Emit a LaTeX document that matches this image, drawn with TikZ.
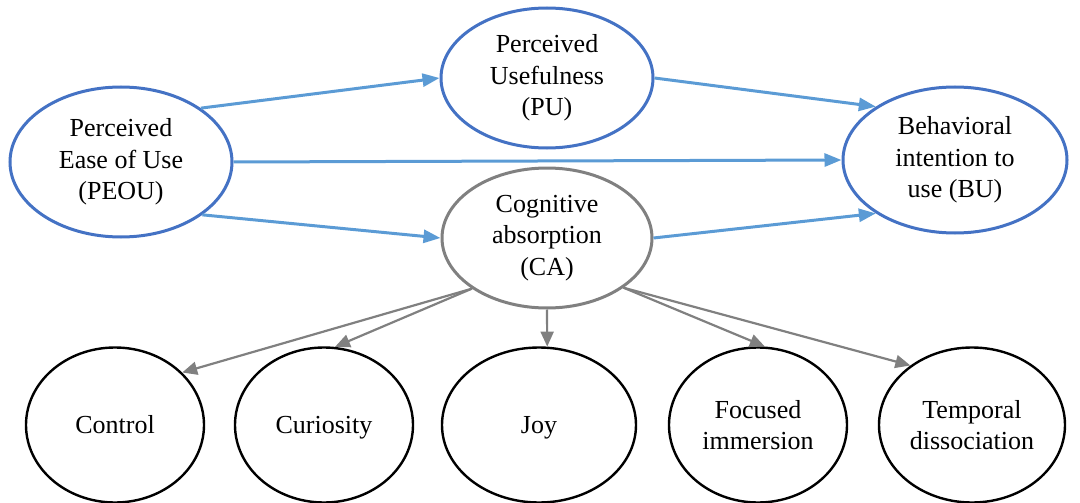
\documentclass[tikz,border=0pt]{standalone}
\usepackage{fontspec}
\setmainfont{Liberation Serif}
\usetikzlibrary{shapes.geometric,arrows.meta}
\definecolor{modelblue}{HTML}{4472C4}
\definecolor{linkblue}{HTML}{5B9BD5}
\definecolor{absgray}{HTML}{808080}
\begin{document}
\begin{tikzpicture}[x=1pt,y=-1pt,
  every node/.style={font=\fontsize{26}{31.5}\selectfont, align=center, inner sep=0pt},
  construct/.style={ellipse, draw=modelblue, line width=3pt, fill=white},
  absorb/.style={ellipse, draw=absgray, line width=3pt, fill=white},
  facet/.style={ellipse, draw=black, line width=2.4pt, fill=white,
                minimum width=178pt, minimum height=155pt},
  oneline/.style={text height=20pt, text depth=4pt},
  bluelink/.style={draw=linkblue, line width=3pt,
                   -{Triangle[length=17pt,width=13pt]}},
  graylink/.style={draw=absgray, line width=2.2pt,
                   -{Triangle[length=15pt,width=13pt]}}]
\useasboundingbox (0,0) rectangle (1080,503);

% TAM constructs
\node[construct, minimum width=222pt, minimum height=150pt] (peou) at (121,162)
  {Perceived\\Ease of Use\\(PEOU)};
\node[construct, minimum width=212pt, minimum height=140pt] (pu) at (547,78)
  {Perceived\\Usefulness\\(PU)};
\node[construct, minimum width=224pt, minimum height=146pt] (bu) at (955,160)
  {Behavioral\\intention to\\use (BU)};
\node[absorb, minimum width=210pt, minimum height=140pt] (ca) at (547,238)
  {Cognitive\\absorption\\(CA)};

% dimensions of cognitive absorption
\node[facet, oneline] (ctrl) at (115,425) {Control};
\node[facet, oneline] (cur) at (324,425) {Curiosity};
\node[facet, oneline, minimum width=194pt] (joy) at (539,425) {Joy};
\node[facet] (foc) at (758,425) {Focused\\immersion};
\node[facet, minimum width=186pt] (temp) at (972,425) {Temporal\\dissociation};

% structural paths
\draw[bluelink] (peou.34) -- (pu.west);
\draw[bluelink] (peou.east) -- (bu.west);
\draw[bluelink] (peou.-33) -- (ca.west);
\draw[bluelink] (pu.east) -- (bu.146);
\draw[bluelink] (ca.east) -- (bu.214);

% CA to its dimensions
\draw[graylink] (ca.214) -- (ctrl.38);
\draw[graylink] (ca.214) -- (cur.82);
\draw[graylink] (ca.south) -- (joy.84);
\draw[graylink] (ca.-33) -- (foc.85);
\draw[graylink] (ca.-33) -- (temp.136);
\end{tikzpicture}
\end{document}
